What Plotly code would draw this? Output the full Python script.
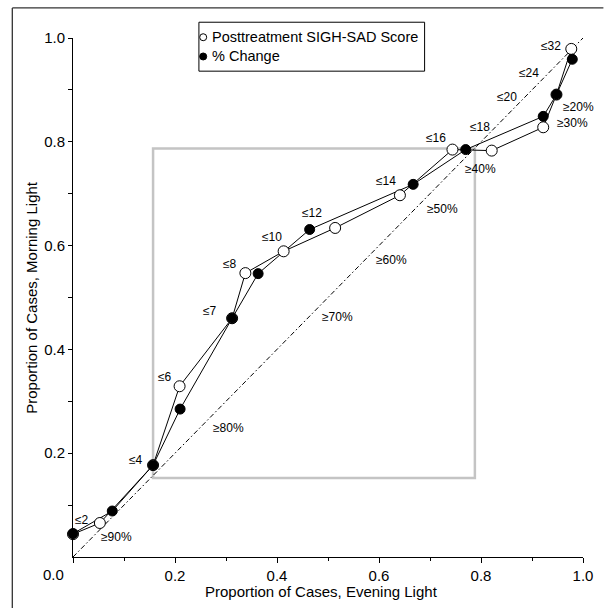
import plotly.graph_objects as go

# ---- data ----
score_x = [0.0, 0.0527, 0.157, 0.209, 0.312, 0.338, 0.413, 0.514, 0.641, 0.744, 0.821, 0.922, 0.948, 0.977]
score_y = [0.044, 0.0655, 0.177, 0.329, 0.460, 0.547, 0.589, 0.634, 0.697, 0.785, 0.783, 0.828, 0.891, 0.979]

change_x = [0.0, 0.077, 0.157, 0.210, 0.312, 0.363, 0.464, 0.667, 0.770, 0.922, 0.948, 0.979]
change_y = [0.045, 0.0886, 0.177, 0.285, 0.460, 0.546, 0.631, 0.718, 0.785, 0.849, 0.891, 0.959]

diag_x = [0.0, 1.0]
diag_y = [0.0, 1.0]

box_x = [0.157, 0.788]
box_y = [0.152, 0.787]

labels = ["≤2", "≤4", "≤6", "≤7", "≤8", "≤10", "≤12", "≤14", "≤16", "≤18", "≤20", "≤24", "≤32",
          "≥90%", "≥80%", "≥70%", "≥60%", "≥50%", "≥40%", "≥30%", "≥20%", "≥0%"]
label_x = [0.017, 0.123, 0.181, 0.268, 0.307, 0.390, 0.469, 0.614, 0.711, 0.799, 0.850, 0.895, 0.937,
           0.085, 0.305, 0.519, 0.625, 0.725, 0.799, 0.980, 0.992, 1.001]
label_y = [0.072, 0.186, 0.347, 0.474, 0.564, 0.616, 0.663, 0.724, 0.807, 0.828, 0.886, 0.932, 0.984,
           0.0385, 0.249, 0.463, 0.573, 0.670, 0.747, 0.837, 0.868, 0.937]

xtick_vals = [0.0, 0.2, 0.4, 0.6, 0.8, 1.0]
ytick_vals = [0.2, 0.4, 0.6, 0.8, 1.0]

legend_names = ["Posttreatment SIGH-SAD Score", "% Change"]

FONT = "Liberation Sans, Arial, Helvetica, sans-serif"

fig = go.Figure()

# diagonal reference line
fig.add_trace(go.Scatter(x=diag_x, y=diag_y, mode="lines",
                         line=dict(color="black", width=1, dash="5px,2.5px,1.5px,2.5px"),
                         hoverinfo="skip", showlegend=False, cliponaxis=False))
# lines
fig.add_trace(go.Scatter(x=score_x, y=score_y, mode="lines", line=dict(color="black", width=1),
                         showlegend=False, cliponaxis=False))
fig.add_trace(go.Scatter(x=change_x, y=change_y, mode="lines", line=dict(color="black", width=1),
                         showlegend=False, cliponaxis=False))
# markers
fig.add_trace(go.Scatter(x=score_x, y=score_y, mode="markers", name=legend_names[0],
                         marker=dict(symbol="circle", size=11, color="white",
                                     line=dict(color="black", width=1)),
                         showlegend=False, cliponaxis=False))
fig.add_trace(go.Scatter(x=change_x, y=change_y, mode="markers", name=legend_names[1],
                         marker=dict(symbol="circle", size=10, color="black",
                                     line=dict(color="black", width=1)),
                         showlegend=False, cliponaxis=False))

shapes = []
# gray box
shapes.append(dict(type="rect", xref="x", yref="y", x0=box_x[0], x1=box_x[1], y0=box_y[0], y1=box_y[1],
                   line=dict(color="#c4c4c4", width=2.5), layer="below"))
# outer frame (left and top edges; right/bottom fall outside the picture)
shapes.append(dict(type="line", xref="paper", yref="paper", x0=-0.119, x1=-0.119, y0=-0.11, y1=1.058,
                   line=dict(color="#333333", width=1.3)))
shapes.append(dict(type="line", xref="paper", yref="paper", x0=-0.119, x1=1.04, y0=1.058, y1=1.058,
                   line=dict(color="#333333", width=1.3)))
# legend box
shapes.append(dict(type="rect", xref="paper", yref="paper", x0=0.2469, x1=0.6894, y0=0.9361, y1=1.0304,
                   line=dict(color="black", width=1), fillcolor="white"))
# legend markers
for yy, fill in [(1.0015, "white"), (0.9644, "black")]:
    shapes.append(dict(type="circle", xref="paper", yref="paper", xsizemode="pixel", ysizemode="pixel",
                       xanchor=0.2553, yanchor=yy, x0=-3.5, x1=3.5, y0=-3.5, y1=3.5,
                       line=dict(color="black", width=1), fillcolor=fill))

annotations = []
for name, yy in zip(legend_names, [1.0015, 0.9644]):
    annotations.append(dict(text=name, xref="paper", yref="paper", x=0.2693, y=yy,
                            xanchor="left", yanchor="middle", showarrow=False,
                            font=dict(family=FONT, size=14.5, color="black")))
for t, lx, ly in zip(labels, label_x, label_y):
    annotations.append(dict(text=t, x=lx, y=ly, xref="x", yref="y", showarrow=False,
                            xanchor="center", yanchor="middle",
                            font=dict(family=FONT, size=12, color="black")))
# axis titles
annotations.append(dict(text="Proportion of Cases, Evening Light", xref="paper", yref="paper",
                        x=0.487, y=0, yshift=-34, xanchor="center", yanchor="middle", showarrow=False,
                        font=dict(family=FONT, size=15, color="black")))
annotations.append(dict(text="Proportion of Cases, Morning Light", xref="paper", yref="paper",
                        x=0, xshift=-41.7, y=0.5, textangle=-90, xanchor="center", yanchor="middle",
                        showarrow=False, font=dict(family=FONT, size=15, color="black")))
# 0.0 label offset left of the origin
annotations.append(dict(text=f"{xtick_vals[0]:.1f}", xref="x", yref="paper", x=xtick_vals[0], y=0,
                        xshift=-19.4, yshift=-17, xanchor="center", yanchor="middle", showarrow=False,
                        font=dict(family=FONT, size=15, color="black")))

fig.update_layout(
    width=605, height=608,
    margin=dict(l=72.7, r=14, t=37.5, b=51.3, pad=0),
    paper_bgcolor="white", plot_bgcolor="white",
    showlegend=False,
    shapes=shapes, annotations=annotations,
    font=dict(family=FONT, size=15, color="black"),
)
fig.update_xaxes(range=[0, 1], showgrid=False, zeroline=False, showline=True, linecolor="black", linewidth=1,
                 tickvals=xtick_vals, ticktext=[""] + [f"{v:.1f}" for v in xtick_vals[1:]],
                 ticks="outside", ticklen=5, tickwidth=1, tickcolor="black",
                 minor=dict(tickvals=[0.1, 0.3, 0.5, 0.7, 0.9], ticks="outside", ticklen=3,
                            tickwidth=1, tickcolor="black"),
                 tickfont=dict(family=FONT, size=15, color="black"))
fig.update_yaxes(range=[0, 1], showgrid=False, zeroline=False, showline=True, linecolor="black", linewidth=1,
                 tickvals=ytick_vals, ticktext=[f"{v:.1f}" for v in ytick_vals],
                 ticks="outside", ticklen=4, tickwidth=1, tickcolor="black",
                 minor=dict(tickvals=[0.1, 0.3, 0.5, 0.7, 0.9], ticks="outside", ticklen=4,
                            tickwidth=1, tickcolor="black"),
                 tickfont=dict(family=FONT, size=15, color="black"))

fig.write_html("out.html", config={"displayModeBar": False},
               post_script="document.body.style.margin='0px';document.body.style.overflow='hidden';")
